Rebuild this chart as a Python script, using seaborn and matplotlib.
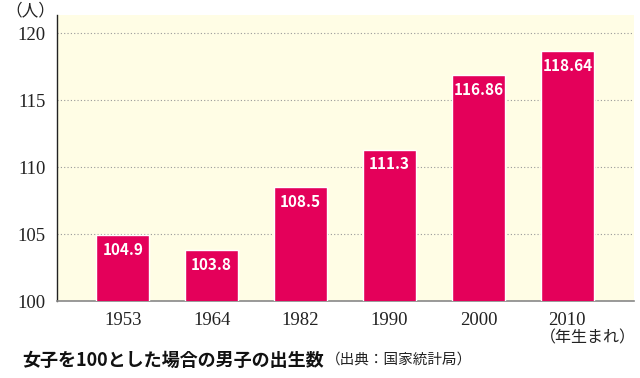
import pandas as pd
import seaborn as sns
import matplotlib.pyplot as plt

years = ['1953', '1964', '1982', '1990', '2000', '2010']
ratio = [104.9, 103.8, 108.5, 111.3, 116.86, 118.64]
labels = ['104.9', '103.8', '108.5', '111.3', '116.86', '118.64']

df = pd.DataFrame({'year': years, 'ratio': ratio})

sns.set_theme(style='white')
plt.rcParams['font.family'] = ['Noto Sans CJK JP', 'DejaVu Sans']

fig = plt.figure(figsize=(6.4, 3.78), dpi=100)
ax = fig.add_axes([57 / 640, 1 - 301 / 378, 577 / 640, 286 / 378])
ax.set_facecolor('#fffde5')

sns.barplot(data=df, x='year', y='ratio', color='#e4005a', saturation=1,
            width=0.6, ax=ax, zorder=3)

ax.set_ylim(100, 121.35)
ax.set_xlim(-0.74, 5.75)
ax.set_yticks([100, 105, 110, 115, 120])
ax.yaxis.grid(True, linestyle=(0, (1, 2)), color='#999999', linewidth=0.8, zorder=1)
ax.set_axisbelow(True)

for s in ['top', 'right']:
    ax.spines[s].set_visible(False)
ax.spines['left'].set_color('#222222')
ax.spines['left'].set_linewidth(1.0)
ax.spines['bottom'].set_color('#888888')
ax.spines['bottom'].set_linewidth(1.2)

ax.set_xlabel('')
ax.set_ylabel('')
ax.tick_params(axis='both', length=0, pad=8)
for t in ax.get_yticklabels() + ax.get_xticklabels():
    t.set_fontfamily('Liberation Serif')
    t.set_fontsize(13.5)
    t.set_color('#222222')

# 棒の中の数値ラベル
for i, (v, lab) in enumerate(zip(ratio, labels)):
    ax.text(i, v - 0.5, lab, ha='center', va='top', color='white',
            fontsize=11, fontweight='bold', zorder=4)

fig.text(5 / 640, 1 - 11 / 378, '（人）', fontsize=12, va='center', ha='left', color='#222222')
fig.text(636 / 640, 1 - 338 / 378, '（年生まれ）', fontsize=11.5, va='center', ha='right', color='#222222')
t1 = fig.text(22 / 640, 1 - 360 / 378, '女子を100とした場合の男子の出生数', fontsize=13,
              fontweight='bold', va='center', ha='left', color='#111111')
fig.canvas.draw()
bb = t1.get_window_extent()
fig.text(bb.x1 / 640 + 0.003, 1 - 360 / 378, '（出典：国家統計局）', fontsize=10.5,
         va='center', ha='left', color='#222222')

fig.savefig('out.png', dpi=100)
